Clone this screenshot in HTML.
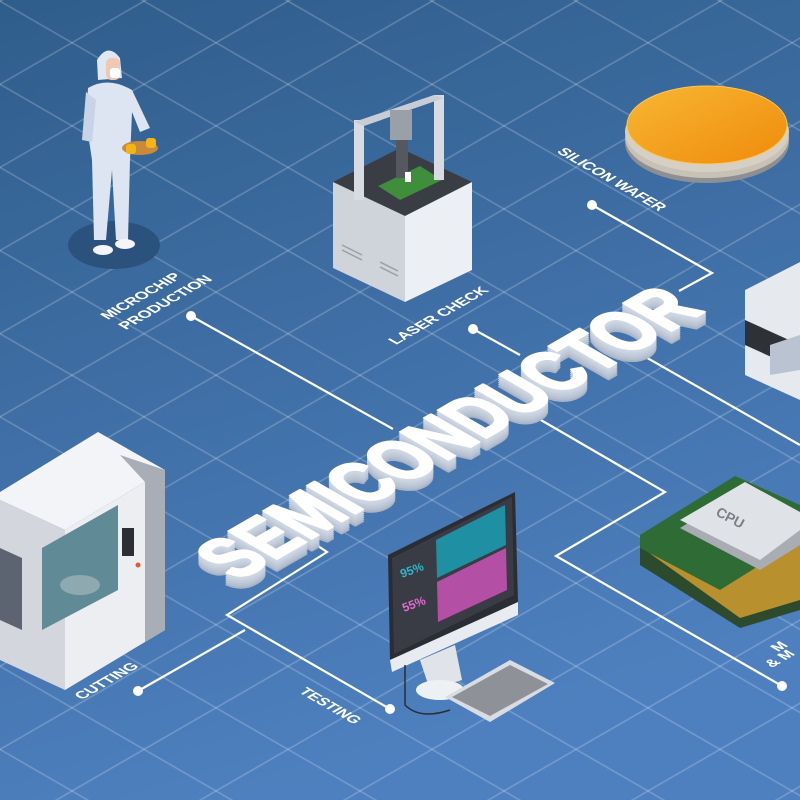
<!DOCTYPE html>
<html><head><meta charset="utf-8"><style>
html,body{margin:0;padding:0;width:800px;height:800px;overflow:hidden}
svg{display:block}
text{font-family:"Liberation Sans",sans-serif;font-weight:bold}
</style></head><body>
<svg width="800" height="800" viewBox="0 0 800 800" xmlns="http://www.w3.org/2000/svg">
<defs>
<linearGradient id="bg" x1="0" y1="0" x2="0.3" y2="1">
<stop offset="0" stop-color="#2f5d8b"/><stop offset="1" stop-color="#4e80bf"/>
</linearGradient>
<pattern id="g1" width="2000" height="72" patternUnits="userSpaceOnUse" patternTransform="rotate(-30)">
<line x1="0" y1="1" x2="2000" y2="1" stroke="#ffffff" stroke-opacity="0.22" stroke-width="1.5"/>
</pattern>
<pattern id="g2" width="2000" height="72" patternUnits="userSpaceOnUse" patternTransform="rotate(30)">
<line x1="0" y1="1" x2="2000" y2="1" stroke="#ffffff" stroke-opacity="0.22" stroke-width="1.5"/>
</pattern>
<linearGradient id="wf" x1="0" y1="0" x2="1" y2="1"><stop offset="0" stop-color="#f7b733"/><stop offset="1" stop-color="#f08a0c"/></linearGradient>
<text id="sc" font-size="80" font-weight="900" textLength="540" lengthAdjust="spacingAndGlyphs" stroke-width="3" stroke-linejoin="round">SEMICONDUCTOR</text>
</defs>
<rect width="800" height="800" fill="url(#bg)"/>
<rect width="800" height="800" fill="url(#g1)"/>
<rect width="800" height="800" fill="url(#g2)"/>

<!-- connectors -->
<g stroke="#fff" stroke-width="2.2" fill="none">
<polyline points="191,316 393,429"/>
<polyline points="592,205 712,273 679,291"/>
<polyline points="628,347 800,445"/>
<polyline points="473,329 520,355"/>
<polyline points="515,405 665,492 556,556 782,686"/>
<polyline points="138,691 245,630"/>
<polyline points="306,538 327,552 227,615 390,709"/>
</g>
<g fill="#fff">
<circle cx="191" cy="316" r="5"/><circle cx="592" cy="205" r="5"/><circle cx="473" cy="329" r="5"/>
<circle cx="138" cy="691" r="5"/><circle cx="390" cy="709" r="5"/><circle cx="782" cy="686" r="5"/>
</g>

<!-- labels (flat isometric) -->
<g fill="#fff" font-size="15">
<text transform="matrix(0.866,-0.5,0.866,0.5,108,320)">MICROCHIP</text>
<text transform="matrix(0.866,-0.5,0.866,0.5,126,330)">PRODUCTION</text>
<text transform="matrix(0.866,-0.5,0.866,0.5,396,345)">LASER CHECK</text>
<text transform="matrix(0.866,0.5,-0.866,0.5,556,152)">SILICON WAFER</text>
<text transform="matrix(0.866,-0.5,0.866,0.5,82,700)">CUTTING</text>
<text transform="matrix(0.866,0.5,-0.866,0.5,298,692)">TESTING</text>
<text transform="matrix(0.866,-0.5,0.866,0.5,778,652)">M</text>
<text transform="matrix(0.866,-0.5,0.866,0.5,772,668)">&amp; M</text>
</g>

<!-- SEMICONDUCTOR flat 3D text -->
<g>
<use href="#sc" transform="matrix(0.866,-0.5,0.866,0.5,238,593)" fill="#a9b5c7" stroke="#a9b5c7"/>
<use href="#sc" transform="matrix(0.866,-0.5,0.866,0.5,238,591)" fill="#b4bfcf" stroke="#b4bfcf"/>
<use href="#sc" transform="matrix(0.866,-0.5,0.866,0.5,238,589)" fill="#bcc6d5" stroke="#bcc6d5"/>
<use href="#sc" transform="matrix(0.866,-0.5,0.866,0.5,238,587)" fill="#c3ccda" stroke="#c3ccda"/>
<use href="#sc" transform="matrix(0.866,-0.5,0.866,0.5,238,585)" fill="#c9d2df" stroke="#c9d2df"/>
<use href="#sc" transform="matrix(0.866,-0.5,0.866,0.5,238,583)" fill="#cfd7e3" stroke="#cfd7e3"/>
<use href="#sc" transform="matrix(0.866,-0.5,0.866,0.5,238,581)" fill="#ffffff" stroke="#ffffff"/>
</g>

<!-- person -->
<ellipse cx="114" cy="245" rx="46" ry="24" fill="#2b527d"/>
<g>
<path d="M97,60 Q108,42 120,58 L122,78 L98,80 Z" fill="#dfe7f2"/>
<rect x="106" y="58" width="14" height="22" rx="5" fill="#f1c9b3"/>
<rect x="110" y="68" width="10" height="10" rx="3" fill="#fff"/>
<path d="M88,88 Q108,76 132,90 L150,128 L140,132 L132,112 L130,160 L128,240 L116,240 L112,170 L106,240 L94,240 L92,160 L86,120 Z" fill="#dce5f1"/>
<path d="M86,92 L82,140 L92,142 L96,100 Z" fill="#c8d4e5"/>
<ellipse cx="140" cy="148" rx="18" ry="7" fill="#c98a3a"/>
<rect x="126" y="144" width="10" height="10" rx="3" fill="#f3b418"/>
<rect x="146" y="138" width="10" height="10" rx="3" fill="#f3b418"/>
<ellipse cx="103" cy="250" rx="10" ry="5" fill="#f3f5f8"/>
<ellipse cx="125" cy="244" rx="10" ry="5" fill="#f3f5f8"/>
</g>

<!-- laser check machine -->
<g>
<polygon points="333,182 400,148 472,182 405,216" fill="#3a3d44"/>
<polygon points="333,182 405,216 405,302 333,268" fill="#cfd3da"/>
<polygon points="405,216 472,182 472,270 405,302" fill="#eceff3"/>
<polygon points="378,186 420,166 442,180 400,200" fill="#3e8e3c"/>
<rect x="354" y="120" width="10" height="80" fill="#d8dce2"/>
<rect x="434" y="95" width="10" height="85" fill="#d8dce2"/>
<polygon points="354,122 434,95 444,98 364,126" fill="#c8cdd5"/>
<rect x="390" y="110" width="22" height="30" fill="#9aa0a8"/>
<rect x="396" y="140" width="12" height="38" fill="#55595f"/>
<rect x="405" y="172" width="6" height="10" fill="#fff"/>
<g stroke="#9aa0a8" stroke-width="1.5"><line x1="342" y1="245" x2="362" y2="255"/><line x1="342" y1="250" x2="362" y2="260"/><line x1="380" y1="262" x2="398" y2="271"/><line x1="380" y1="267" x2="398" y2="276"/></g>
</g>

<!-- wafer -->
<ellipse cx="707" cy="143" rx="82" ry="40" fill="#8d8f93"/>
<ellipse cx="707" cy="138" rx="82" ry="40" fill="#c8c2b6"/>
<ellipse cx="707" cy="132" rx="82" ry="40" fill="#d6d0c4"/>
<ellipse cx="707" cy="125" rx="80" ry="39" fill="url(#wf)"/>
<ellipse cx="707" cy="125" rx="80" ry="39" fill="none" stroke="#f7c85a" stroke-width="1"/>

<!-- right machine -->
<g>
<polygon points="745,290 800,262 800,280 760,300" fill="#3a3d44"/>
<polygon points="745,290 800,262 800,400 745,375" fill="#e6e9ee"/>
<polygon points="745,320 800,345 800,370 745,345" fill="#2e3136"/>
<polygon points="770,345 800,335 800,370 770,375" fill="#b9c3d2"/>
</g>

<!-- CPU -->
<g>
<polygon points="640,545 735,478 800,510 800,610 740,628 640,565" fill="#2c4a2c"/>
<polygon points="648,552 735,495 800,528 800,600 740,618" fill="#b8912e"/>
<polygon points="640,535 735,476 800,505 800,540 720,590 640,548" fill="#2e6b35"/>
<polygon points="680,528 745,488 800,520 800,545 760,570" fill="#a9adb3"/>
<polygon points="680,520 745,482 800,512 800,530 760,560" fill="#dfe2e6"/>
<text transform="translate(715,515) rotate(28)" font-size="14" font-weight="normal" fill="#7c8086">CPU</text>
</g>

<!-- monitor -->
<g>
<polygon points="388,555 515,492 518,602 390,660" fill="#2a2d33"/>
<polygon points="392,558 512,497 514,595 394,654" fill="#393c44"/>
<polygon points="436,540 505,505 506,545 437,578" fill="#1f8fa3"/>
<polygon points="437,582 506,548 507,590 438,622" fill="#b44fa6"/>
<text x="402" y="578" font-size="12" fill="#2fb6d0" transform="rotate(-20 402 578)">95%</text>
<text x="404" y="612" font-size="12" fill="#e36bd1" transform="rotate(-20 404 612)">55%</text>
<polygon points="390,660 518,602 518,615 392,672" fill="#e8ebef"/>
<polygon points="420,660 455,645 462,680 430,690" fill="#e0e4e9"/>
<ellipse cx="440" cy="690" rx="24" ry="10" fill="#eef1f4"/>
<polygon points="445,697 510,660 555,683 490,722" fill="#d9dde2"/>
<polygon points="452,697 510,665 548,684 490,716" fill="#5c6068" opacity="0.6"/>
<path d="M405,665 L405,705 Q420,720 450,710" stroke="#2a2d33" stroke-width="1.5" fill="none"/>
</g>

<!-- cutting machine -->
<g>
<polygon points="0,492 98,432 165,470 65,530 0,500" fill="#f2f4f7"/>
<polygon points="0,500 65,530 65,690 0,660" fill="#d3d7dd"/>
<polygon points="65,530 165,470 165,630 65,690" fill="#eceef1"/>
<polygon points="120,455 165,470 165,630 145,642 145,482" fill="#a9aeb6"/>
<polygon points="42,548 118,505 118,590 42,630" fill="#5f8a96"/>
<ellipse cx="80" cy="585" rx="20" ry="10" fill="#8fa9b0"/>
<rect x="122" y="528" width="12" height="28" fill="#2b2e34"/>
<circle cx="138" cy="565" r="2.5" fill="#e65a2a"/>
<polygon points="0,548 22,558 22,630 0,620" fill="#5b6470"/>
</g>
</svg>
</body></html>
